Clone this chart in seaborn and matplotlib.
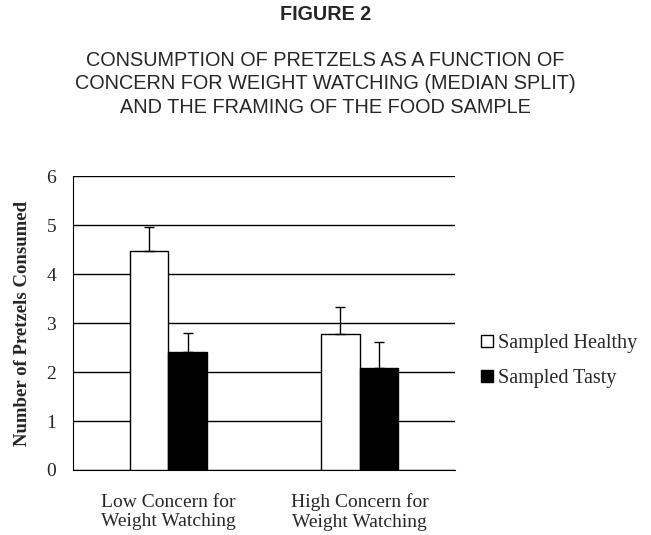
import pandas as pd
import numpy as np
import matplotlib
matplotlib.use("Agg")
import matplotlib.pyplot as plt
import seaborn as sns
from matplotlib.lines import Line2D

# data
groups = ["Low Concern for\nWeight Watching", "High Concern for\nWeight Watching"]
conditions = ["Sampled Healthy", "Sampled Tasty"]
healthy = [4.47, 2.77]
tasty = [2.40, 2.08]
healthy_err = [0.48, 0.56]
tasty_err = [0.40, 0.54]

df = pd.DataFrame({
    "group": groups * 2,
    "condition": [conditions[0]] * 2 + [conditions[1]] * 2,
    "value": healthy + tasty,
    "err": healthy_err + tasty_err,
})

sns.set_style("white")
serif = ["Liberation Serif", "DejaVu Serif"]
sans = ["Liberation Sans", "DejaVu Sans"]

fig = plt.figure(figsize=(6.51, 5.35), dpi=100)
ax = fig.add_axes([0.112, 0.1215, 0.587, 0.5495])

sns.barplot(data=df, x="group", y="value", hue="condition", order=groups,
            hue_order=conditions, palette=["white", "black"], edgecolor="black",
            linewidth=1, width=0.4, errorbar=None, legend=False, ax=ax, zorder=3)

# one-sided error bars on top of each bar
for bars, (cond, sub) in zip(ax.containers, df.groupby("condition", sort=False)):
    sub = sub.set_index("group").loc[groups]
    xs = [b.get_x() + b.get_width() / 2 for b in bars]
    ys = [b.get_height() for b in bars]
    ax.errorbar(xs, ys, yerr=[np.zeros(len(xs)), sub["err"].values], fmt="none",
                ecolor="black", elinewidth=1, capsize=3.5, capthick=1, zorder=4)

ax.set_ylim(0, 6)
ax.set_xlim(-0.5, 1.5)
ax.set_yticks(range(0, 7))
ax.yaxis.grid(True, color="black", linewidth=1)
ax.set_axisbelow(True)
for s in ["top", "right"]:
    ax.spines[s].set_visible(False)
ax.spines["left"].set_color("black")
ax.spines["bottom"].set_color("black")
ax.tick_params(axis="y", length=5, width=1, color="black", labelsize=14, pad=7)
ax.tick_params(axis="x", length=0, labelsize=14, pad=17)
for lab in ax.get_xticklabels() + ax.get_yticklabels():
    lab.set_family(serif)
    lab.set_linespacing(1.22)
ax.set_xlabel("")
ax.set_ylabel("Number of Pretzels Consumed", family=serif, fontsize=13.5,
              fontweight="bold", labelpad=11)

handles = [Line2D([], [], marker="s", linestyle="none", markersize=8,
                  markerfacecolor="white", markeredgecolor="black", markeredgewidth=1),
           Line2D([], [], marker="s", linestyle="none", markersize=8,
                  markerfacecolor="black", markeredgecolor="black")]
ax.legend(handles, conditions, loc="center left", bbox_to_anchor=(1.02, 0.372),
          frameon=False, prop={"family": serif, "size": 14.5}, handlelength=0.6,
          handletextpad=0.25, labelspacing=0.8)

fig.text(0.5, 0.972, "FIGURE 2", ha="center", va="center", family=sans,
         fontsize=14.2, fontweight="bold")
fig.text(0.5, 0.843, "CONSUMPTION OF PRETZELS AS A FUNCTION OF\n"
         "CONCERN FOR WEIGHT WATCHING (MEDIAN SPLIT)\n"
         "AND THE FRAMING OF THE FOOD SAMPLE", ha="center", va="center",
         family=sans, fontsize=14.3, linespacing=1.3)

fig.savefig("out.png", dpi=100)
